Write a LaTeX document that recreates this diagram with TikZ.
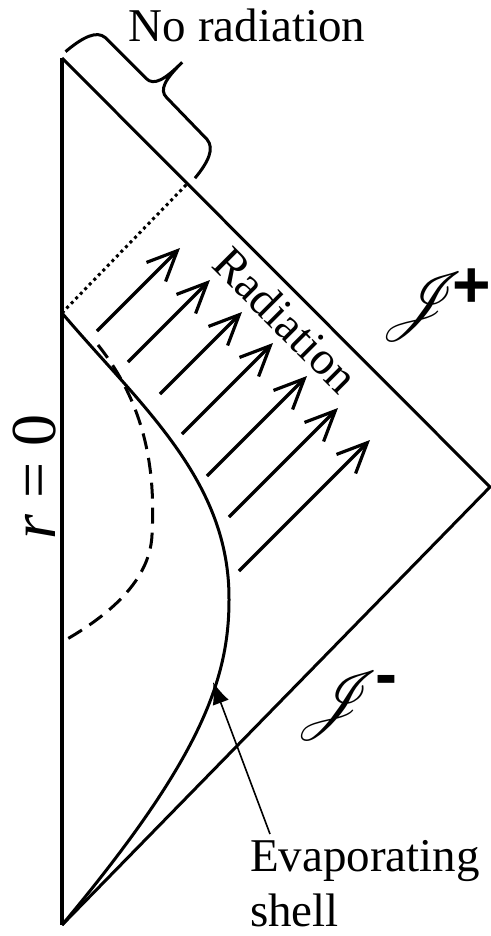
\documentclass[tikz,border=0pt]{standalone}
\usepackage{fontspec}
\setmainfont{Liberation Serif}
\setsansfont{Liberation Sans}
\usepackage{mathrsfs}
\usetikzlibrary{arrows.meta, calc}

\begin{document}
\begin{tikzpicture}[x=1pt, y=-1pt,
    edge/.style={line width=3pt},
    ray/.style={line width=3.2pt, -{Straight Barb[length=30pt,width=27pt]}},
    lbl/.style={inner sep=0pt, font=\fontsize{47}{55}\selectfont},
    scri/.style={inner sep=0pt, anchor=south west},
    sign/.style={inner sep=0pt, anchor=base, font=\sffamily\bfseries\fontsize{66}{70}\selectfont}]
  \useasboundingbox (0,0) rectangle (490,936);
  % corners of the diagram
  \coordinate (top) at (62,58);
  \coordinate (iz) at (490,487);
  \coordinate (bot) at (62,925);
  \coordinate (core) at (62,313);   % shell hits r = 0
  \coordinate (cut) at (187,184);   % last ray reaching J+
  \coordinate (hz) at (98,345);
  \coordinate (hit) at (213,682);
  \draw[line width=3.5pt] (top) -- (bot);
  \draw[edge] (top) -- (iz) -- (bot);
  % shell and horizon
  \draw[edge] (core) .. controls (140,405) and (230,480) .. (229,600)
    .. controls (229,680) and (200,760) .. (bot);
  \draw[edge, dash pattern=on 16pt off 9pt] (hz) .. controls (150,410) and (155,480) .. (152,535)
    .. controls (150,580) and (110,615) .. (62,642);
  \draw[edge, dash pattern=on 3pt off 3.5pt] (core) -- (cut);
  % outgoing rays
  \foreach \tx/\ty/\len in {180/248/83, 210/280/82, 242/312/82, 273/343/91,
                            307/376/100, 338/408/109, 370/440/131}
    \draw[ray] (\tx-\len,\ty+\len) -- (\tx,\ty);
  % brace over the dark part of J+
  \begin{scope}[shift={(top)}, x={(0.7071pt,-0.7071pt)}, y={(0.7071pt,0.7071pt)}]
    \draw[edge] (-2,7) .. controls (0,30) and (5,44) .. (16,45) -- (74,45)
      .. controls (85,45) and (88,58) .. (88,82)
      .. controls (88,58) and (91,46) .. (102,46) -- (160,45)
      .. controls (172,44) and (177,30) .. (179,9);
  \end{scope}
  % labels
  \node[lbl, anchor=base] (norad) at (247,42) {No radiation};
  \node[lbl, rotate=-45] (rad) at (286,320) {Radiation};
  \node[inner sep=0pt, rotate=90, anchor=base, font=\fontsize{64}{70}\selectfont]
    (rzero) at (55,477) {\textit{r} = 0};
  \node[scri] (jplus) at (379,341) {\scalebox{7}{$\mathscr{J}$}};
  \node[sign] (plus) at (472,307) {+};
  \node[scri] (jminus) at (294,740) {\scalebox{7}{$\mathscr{J}$}};
  \node[sign] (minus) at (386,696) {-};
  \node[lbl, align=left, anchor=north west] (evap) at (250,840) {Evaporating\\shell};
  \draw[line width=1.6pt, -{Latex[length=22pt,width=17pt]}]
    ($(evap.north west)+(20,-6)$) -- (hit);
\end{tikzpicture}
\end{document}
